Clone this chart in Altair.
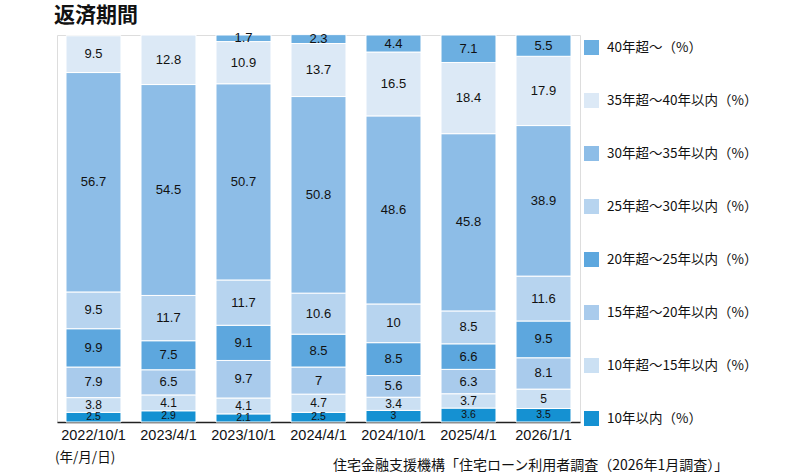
import altair as alt
import pandas as pd

# Survey dates (x categories)
dates = ["2022/10/1", "2023/4/1", "2023/10/1", "2024/4/1", "2024/10/1", "2025/4/1", "2026/1/1"]

# Repayment-period bands, bottom of the stack first
bands = [
    "10年以内（%）",
    "10年超～15年以内（%）",
    "15年超～20年以内（%）",
    "20年超～25年以内（%）",
    "25年超～30年以内（%）",
    "30年超～35年以内（%）",
    "35年超～40年以内（%）",
    "40年超～（%）",
]

# Share (%) per band, one value per survey date (None = not surveyed)
v_10 = [2.5, 2.9, 2.1, 2.5, 3, 3.6, 3.5]
v_10_15 = [3.8, 4.1, 4.1, 4.7, 3.4, 3.7, 5]
v_15_20 = [7.9, 6.5, 9.7, 7, 5.6, 6.3, 8.1]
v_20_25 = [9.9, 7.5, 9.1, 8.5, 8.5, 6.6, 9.5]
v_25_30 = [9.5, 11.7, 11.7, 10.6, 10, 8.5, 11.6]
v_30_35 = [56.7, 54.5, 50.7, 50.8, 48.6, 45.8, 38.9]
v_35_40 = [9.5, 12.8, 10.9, 13.7, 16.5, 18.4, 17.9]
v_40 = [None, None, 1.7, 2.3, 4.4, 7.1, 5.5]

series = [v_10, v_10_15, v_15_20, v_20_25, v_25_30, v_30_35, v_35_40, v_40]

colors = ["#1591d2", "#cbe0f3", "#a9cbec", "#5da7de", "#b7d4ef", "#8dbde7", "#dce9f6", "#6cafe1"]

rows = []
for i, (band, vals) in enumerate(zip(bands, series)):
    for d, v in zip(dates, vals):
        if v is not None:
            rows.append({"date": d, "band": band, "idx": i, "value": v})
df = pd.DataFrame(rows)

FONT_NUM = "Liberation Sans"
FONT_JP = "Noto Sans CJK JP"

base = alt.Chart(df).transform_stack(
    stack="value",
    groupby=["date"],
    sort=[alt.SortField("idx", order="ascending")],
    as_=["y0", "y1"],
).transform_calculate(mid="(datum.y0 + datum.y1) / 2")

x_enc = alt.X(
    "date:N",
    sort=dates,
    scale=alt.Scale(paddingInner=0.267, paddingOuter=0.12),
    axis=alt.Axis(
        title=None,
        labelAngle=0,
        ticks=False,
        labelFontSize=14.5,
        labelFont=FONT_NUM,
        labelColor="#111",
        domainColor="#222",
        domainWidth=1.5,
        labelPadding=6,
    ),
)

bars = base.mark_bar(stroke="white", strokeWidth=1).encode(
    x=x_enc,
    y=alt.Y("y0:Q", scale=alt.Scale(domain=[0, 100], nice=False), axis=None),
    y2="y1:Q",
    color=alt.Color(
        "band:N",
        scale=alt.Scale(domain=bands[::-1], range=colors[::-1]),
        legend=alt.Legend(
            orient="none",
            legendX=527,
            legendY=5,
            title=None,
            symbolType="square",
            symbolSize=225,
            symbolStrokeWidth=0,
            symbolOpacity=1,
            labelFontSize=13.5,
            labelFont=FONT_JP,
            labelColor="#111",
            labelOffset=8,
            rowPadding=38,
            padding=0,
            labelLimit=300,
        ),
    ),
)

# The two bottom bands are thin, so their labels are set smaller
labels = base.transform_calculate(
    fs="datum.idx == 0 ? 10.5 : (datum.idx == 1 ? 12 : 13)"
).mark_text(font=FONT_NUM, color="#111", baseline="middle").encode(
    x=alt.X("date:N", sort=dates),
    y=alt.Y("mid:Q", scale=alt.Scale(domain=[0, 100], nice=False)),
    text=alt.Text("value:Q", format="~g"),
    size=alt.Size("fs:Q", scale=None, legend=None),
)

title = alt.Chart(pd.DataFrame({"t": ["返済期間"]})).mark_text(
    font=FONT_JP, fontSize=21, fontWeight="bold", align="left", baseline="middle", color="#111"
).encode(x=alt.value(-3), y=alt.value(-19), text="t:N")

unit = alt.Chart(pd.DataFrame({"t": ["(年/月/日)"]})).mark_text(
    font=FONT_JP, fontSize=13.5, align="left", baseline="middle", color="#111"
).encode(x=alt.value(-2), y=alt.value(423), text="t:N")

source = alt.Chart(pd.DataFrame({"t": ["住宅金融支援機構「住宅ローン利用者調査（2026年1月調査）」"]})).mark_text(
    font=FONT_JP, fontSize=14, align="left", baseline="middle", color="#111"
).encode(x=alt.value(276), y=alt.value(431), text="t:N")

chart = alt.layer(bars, labels, title, unit, source).properties(
    width=523,
    height=387,
    autosize=alt.AutoSizeParams(type="none"),
    padding={"left": 57, "top": 35, "right": 220, "bottom": 53},
).configure_view(stroke=None).configure(background="white")

chart.save("out.html", embed_options={"renderer": "svg", "actions": False})
